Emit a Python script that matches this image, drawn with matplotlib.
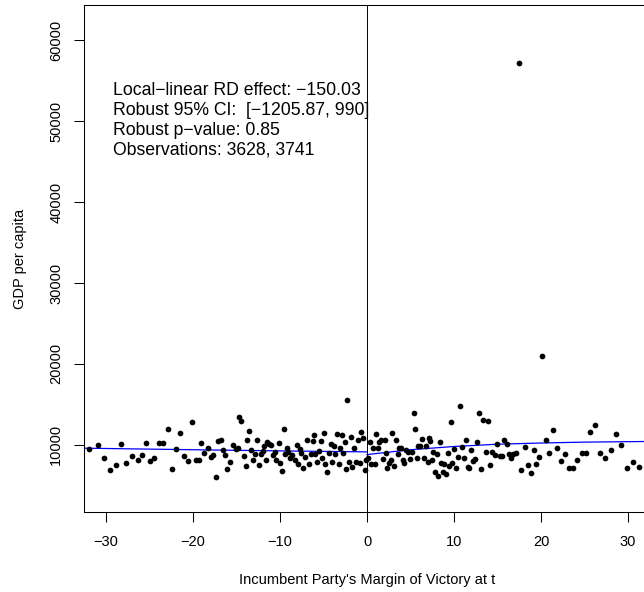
import numpy as np
import matplotlib.pyplot as plt

plt.rcParams['font.family'] = ['Liberation Sans', 'DejaVu Sans']

# binned means, left of the cutoff
x_left = [-31.95, -30.96, -30.19, -29.54, -28.85, -28.31, -27.70, -26.97, -26.36, -25.86,
          -25.36, -24.90, -24.44, -23.95, -23.45, -22.91, -22.41, -21.99, -21.53, -21.03,
          -20.54, -20.08, -19.66, -19.31, -19.04, -18.70, -18.24, -17.97, -17.66, -17.36,
          -17.09, -16.78, -16.51, -16.28, -16.05, -15.75, -15.44, -15.06, -14.83, -14.71,
          -14.44, -14.18, -13.95, -13.83, -13.60, -13.37, -13.10, -12.87, -12.64, -12.45,
          -12.22, -11.95, -11.80, -11.57, -11.46, -11.23, -11.07, -10.84, -10.61, -10.42,
          -10.15, -10.04, -9.77, -9.58, -9.39, -9.23, -9.08, -8.85, -8.58, -8.31,
          -8.08, -7.93, -7.70, -7.55, -7.32, -7.09, -6.93, -6.70, -6.48, -6.25,
          -6.09, -5.94, -5.79, -5.56, -5.33, -5.13, -4.94, -4.79, -4.60, -4.37,
          -4.18, -4.02, -3.79, -3.64, -3.41, -3.26, -3.10, -2.91, -2.76, -2.57,
          -2.41, -2.26, -2.07, -1.88, -1.69, -1.49, -1.30, -1.03, -0.80, -0.65,
          -0.42, -0.27, -0.11]
y_left = [9546, 10041, 8350, 6906, 7525, 10124, 7772, 8680, 8102, 8762,
          10206, 7979, 8350, 10289, 10206, 12021, 7030, 9464, 11526, 8639,
          8061, 12764, 8185, 8185, 10206, 8969, 9670, 8515, 8762, 6040,
          10495, 10578, 9381, 8762, 7071, 7938, 10041, 9464, 9588, 13465,
          12970, 8598, 7401, 10660, 11733, 9423, 8144, 8928, 10660, 7484,
          8845, 9258, 9835, 8185, 10413, 10165, 10000, 8762, 9134, 8185,
          10289, 7772, 6824, 11939, 8928, 9670, 9134, 8432, 8721, 8185,
          9959, 7690, 9464, 9010, 7112, 8515, 10578, 7690, 8928, 10454,
          11196, 8928, 7896, 9258, 10495, 8432, 11444, 7690, 6700, 8969,
          10083, 7896, 9876, 8928, 11320, 7690, 9670, 11238, 9051, 10371,
          6989, 15569, 7938, 11031, 7236, 9588, 7896, 10578, 7814, 11609,
          10908, 6865, 8102]

# binned means, right of the cutoff
x_right = [0.11, 0.31, 0.50, 0.73, 0.88, 1.07, 1.26, 1.38, 1.65, 1.84,
           2.03, 2.18, 2.34, 2.53, 2.72, 2.87, 3.10, 3.30, 3.52, 3.72,
           3.91, 4.10, 4.29, 4.52, 4.75, 4.90, 5.13, 5.36, 5.52, 5.71,
           5.82, 6.09, 6.36, 6.59, 6.78, 6.97, 7.09, 7.28, 7.43, 7.62,
           7.78, 8.01, 8.16, 8.35, 8.54, 8.70, 8.85, 9.08, 9.27, 9.46,
           9.66, 9.81, 10.00, 10.23, 10.46, 10.65, 10.88, 11.11, 11.34, 11.61,
           11.76, 11.95, 12.18, 12.41, 12.61, 12.87, 13.10, 13.37, 13.68, 13.91,
           14.14, 14.41, 14.71, 14.98, 15.25, 15.52, 15.79, 16.05, 16.28, 16.55,
           16.78, 17.09, 17.47, 17.74, 18.12, 18.47, 18.81, 19.16, 19.46, 19.81,
           20.10, 20.57, 20.96, 21.42, 21.80, 22.30, 22.72, 23.22, 23.68, 24.18,
           24.71, 25.21, 25.63, 26.21, 26.78, 27.32, 28.01, 28.62, 29.20, 29.92,
           30.61, 31.30]
y_right = [8432, 10413, 7690, 9588, 7690, 11403, 9588, 10371, 10578, 8226,
           10660, 8969, 7112, 7814, 8102, 11444, 7360, 10660, 8845, 9670,
           9670, 8102, 7814, 9340, 9175, 8226, 9134, 13960, 11980, 8432,
           9876, 9876, 10784, 8432, 9876, 7938, 10908, 10495, 8102, 9175,
           6700, 8845, 6164, 10413, 7731, 6659, 7608, 6453, 9051, 7401,
           12846, 7814, 9546, 7195, 8556, 14744, 9794, 8350, 10578, 7319,
           7195, 9381, 8020, 8226, 10413, 13960, 7071, 13094, 9175, 12970,
           7525, 9175, 8762, 10083, 8639, 8639, 10619, 10083, 8928, 8432,
           8928, 9051, 57150, 6948, 9794, 7525, 6576, 9381, 7608, 8515,
           21000, 10619, 8969, 11815, 9670, 8020, 8845, 7112, 7112, 8185,
           8969, 8969, 11650, 12434, 8969, 8432, 9340, 11320, 10000, 7112,
           7896, 7278]

# polynomial fit lines
fit_x_left = [-32.5, -24, -16, -8, 0]
fit_y_left = [9590, 9460, 9340, 9230, 9134]
fit_x_right = [0, 5, 10, 15, 20, 25, 32.5]
fit_y_right = [8800, 9400, 9800, 10080, 10230, 10340, 10420]

info_lines = ['Local\u2212linear RD effect: \u2212150.03',
              'Robust 95% CI:  [\u22121205.87, 990]',
              'Robust p\u2212value: 0.85',
              'Observations: 3628, 3741']

fig = plt.figure(figsize=(6.44, 5.92), dpi=100)
ax = fig.add_axes([84/644, 80/592, 566/644, 507/592])

ax.scatter(x_left, y_left, s=17, color='black', zorder=3, linewidths=0)
ax.scatter(x_right, y_right, s=17, color='black', zorder=3, linewidths=0)
ax.plot(fit_x_left, fit_y_left, color='blue', lw=0.9, zorder=2)
ax.plot(fit_x_right, fit_y_right, color='blue', lw=0.9, zorder=2)
ax.axvline(0, color='black', lw=0.7, zorder=1)

ax.set_xlim(-32.53, 32.53)
ax.set_ylim(1708, 64330)
ax.set_xticks([-30, -20, -10, 0, 10, 20, 30])
ax.set_yticks([10000, 20000, 30000, 40000, 50000, 60000])
ax.tick_params(direction='out', length=7.5, width=0.75, labelsize=10.5, pad=9)
ax.tick_params(axis='y', pad=7.5)
for lab in ax.get_yticklabels():
    lab.set_rotation(90)
    lab.set_va('center')
for sp in ax.spines.values():
    sp.set_linewidth(0.75)

ax.set_xlabel("Incumbent Party's Margin of Victory at t", fontsize=10.5, labelpad=17)
ax.set_ylabel('GDP per capita', fontsize=10.5, labelpad=16)

for i, line in enumerate(info_lines):
    ax.text(0.0512, 0.832 - i * 20 / 507, line, transform=ax.transAxes,
            fontsize=12.7, va='center', ha='left')

fig.savefig('out.png', dpi=100)
